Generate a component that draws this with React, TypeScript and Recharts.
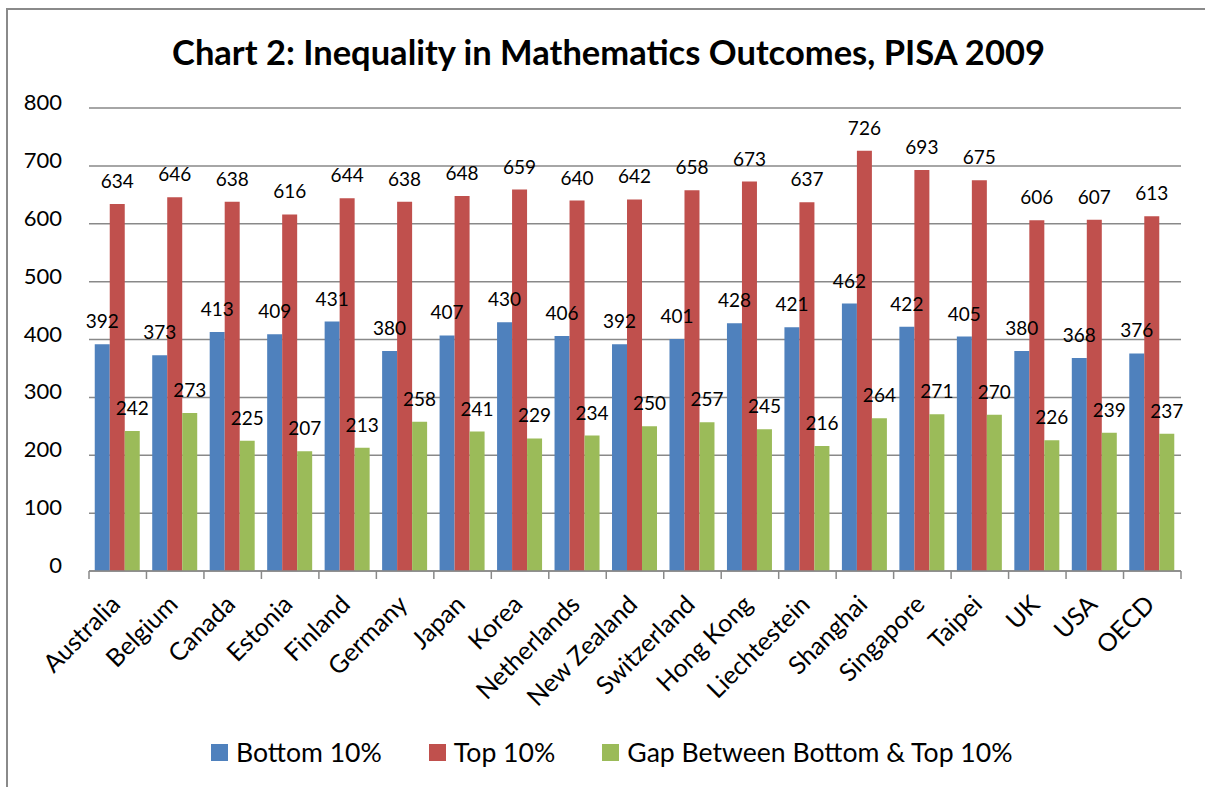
import React from 'react';
import { BarChart, Bar, XAxis, YAxis, CartesianGrid, Legend, LabelList } from 'recharts';

const categories = ['Australia', 'Belgium', 'Canada', 'Estonia', 'Finland', 'Germany', 'Japan', 'Korea', 'Netherlands', 'New Zealand', 'Switzerland', 'Hong Kong', 'Liechtestein', 'Shanghai', 'Singapore', 'Taipei', 'UK', 'USA', 'OECD'];
const bottom10 = [392, 373, 413, 409, 431, 380, 407, 430, 406, 392, 401, 428, 421, 462, 422, 405, 380, 368, 376];
const top10 = [634, 646, 638, 616, 644, 638, 648, 659, 640, 642, 658, 673, 637, 726, 693, 675, 606, 607, 613];
const gap = [242, 273, 225, 207, 213, 258, 241, 229, 234, 250, 257, 245, 216, 264, 271, 270, 226, 239, 237];
const yTicks = [0, 100, 200, 300, 400, 500, 600, 700, 800];

const seriesNames = ['Bottom 10%', 'Top 10%', 'Gap Between Bottom & Top 10%'];
const colors = ['#4F81BD', '#C0504D', '#9BBB59'];

const data = categories.map((c, i) => ({ name: c, bottom: bottom10[i], top: top10[i], gap: gap[i] }));

const W = 1205;
const H = 787;
const M = { top: 108, right: 24, left: 0, bottom: 15 };
const Y_W = 89;
const PLOT_W = W - M.right - Y_W;
const BAND = PLOT_W / categories.length;
const FONT = 'Lato, "Open Sans", sans-serif';
const AXIS_COLOR = '#898989';

const XTick = (props: any) => {
  const { x, y, payload, index } = props;
  const axisY = y - 34;
  const left = x - BAND / 2;
  const tx = x + 4;
  const ty = y + 1;
  return (
    <g>
      <line x1={left} y1={axisY} x2={left} y2={axisY + 8} stroke={AXIS_COLOR} strokeWidth={1.5} />
      {index === categories.length - 1 && (
        <line x1={x + BAND / 2} y1={axisY} x2={x + BAND / 2} y2={axisY + 8} stroke={AXIS_COLOR} strokeWidth={1.5} />
      )}
      <text x={tx} y={ty} textAnchor="end" transform={`rotate(-45, ${tx}, ${ty})`} fontSize={25} fontFamily={FONT} fill="#000">
        {payload.value}
      </text>
    </g>
  );
};

const YTick = (props: any) => {
  const { x, y, payload } = props;
  return (
    <text x={x} y={y + 2} textAnchor="end" fontSize={22} fontFamily={FONT} fill="#000">
      {payload.value}
    </text>
  );
};

const LegendContent = () => (
  <div style={{ height: 40, display: 'flex', alignItems: 'center', paddingLeft: 211, fontFamily: FONT, fontSize: 26.6, color: '#000' }}>
    {seriesNames.map((n, i) => (
      <div key={n} style={{ display: 'flex', alignItems: 'center', marginRight: 47 }}>
        <span style={{ display: 'inline-block', width: 17, height: 17, background: colors[i], marginRight: 8 }} />
        <span style={{ whiteSpace: 'nowrap' }}>{n}</span>
      </div>
    ))}
  </div>
);

export default function App() {
  return (
    <div style={{ position: 'absolute', left: 0, top: 0, width: W, height: H, background: '#fff', overflow: 'hidden' }}>
      <div style={{ position: 'absolute', left: 6, top: 8, width: W, height: H, borderLeft: '2px solid #8a8a8a', borderTop: '2px solid #8a8a8a' }} />
      <div style={{ position: 'absolute', left: 6, top: 31, width: W, height: 42, lineHeight: '42px', textAlign: 'center', fontFamily: FONT, fontWeight: 700, fontSize: 34.5, color: '#000', whiteSpace: 'nowrap' }}>
        Chart 2: Inequality in Mathematics Outcomes, PISA 2009
      </div>
      <div style={{ position: 'absolute', left: 0, top: 0 }}>
        <BarChart width={W} height={H} data={data} margin={M} barCategoryGap="10%" barGap={0}>
          <CartesianGrid vertical={false} stroke={AXIS_COLOR} strokeWidth={1.5} />
          <XAxis
            dataKey="name"
            interval={0}
            height={161}
            tickLine={false}
            tickSize={8}
            tickMargin={26}
            stroke={AXIS_COLOR}
            strokeWidth={1.5}
            tick={<XTick />}
          />
          <YAxis
            width={Y_W}
            domain={[0, 800]}
            ticks={yTicks}
            axisLine={false}
            tickLine={false}
            tickSize={0}
            tickMargin={27}
            tick={<YTick />}
          />
          <Legend verticalAlign="bottom" content={<LegendContent />} />
          <Bar dataKey="bottom" name={seriesNames[0]} fill={colors[0]} isAnimationActive={false}>
            <LabelList dataKey="bottom" position="top" offset={16} fontSize={19} fontFamily={FONT} fill="#000" />
          </Bar>
          <Bar dataKey="top" name={seriesNames[1]} fill={colors[1]} isAnimationActive={false}>
            <LabelList dataKey="top" position="top" offset={16} fontSize={19} fontFamily={FONT} fill="#000" />
          </Bar>
          <Bar dataKey="gap" name={seriesNames[2]} fill={colors[2]} isAnimationActive={false}>
            <LabelList dataKey="gap" position="top" offset={16} fontSize={19} fontFamily={FONT} fill="#000" />
          </Bar>
        </BarChart>
      </div>
    </div>
  );
}
